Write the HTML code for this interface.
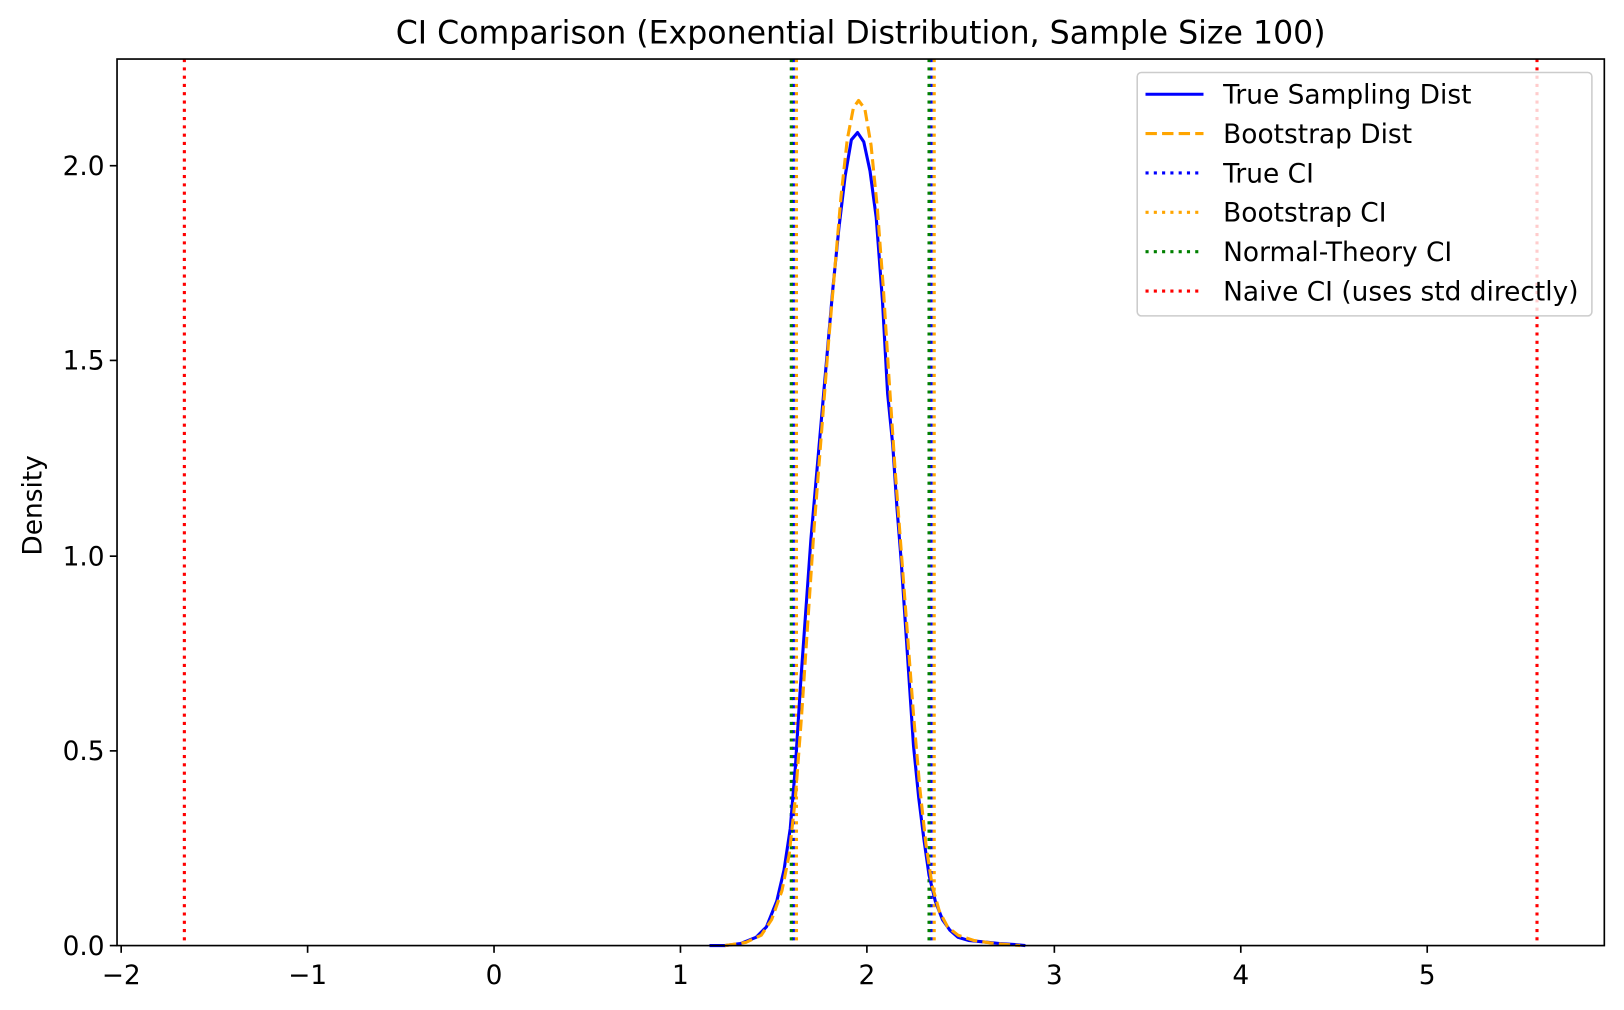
<!DOCTYPE html>
<html><head><style>body{margin:0;background:#fff}svg{display:block}text{font-family:"DejaVu Sans","Liberation Sans",sans-serif;fill:#000}</style></head>
<body>
<svg width="1624" height="1010" viewBox="0 0 1568 975.2" preserveAspectRatio="none" xmlns="http://www.w3.org/2000/svg">
<rect width="1568" height="976" fill="#fff"/>
<text x="831" y="42" font-size="30.5" text-anchor="middle">CI Comparison (Exponential Distribution, Sample Size 100)</text>
<g stroke-width="3" stroke-dasharray="3,5" fill="none">
<line x1="178" y1="57" x2="178" y2="913" stroke="red"/>
<line x1="1484" y1="57" x2="1484" y2="913" stroke="red"/>
<line x1="766" y1="57" x2="766" y2="913" stroke="blue"/>
<line x1="899" y1="57" x2="899" y2="913" stroke="blue"/>
<line x1="769" y1="57" x2="769" y2="913" stroke="orange"/>
<line x1="902" y1="57" x2="902" y2="913" stroke="orange"/>
<line x1="764" y1="57" x2="764" y2="913" stroke="green"/>
<line x1="897" y1="57" x2="897" y2="913" stroke="green"/>
</g>
<polyline fill="none" stroke="blue" stroke-width="3" stroke-linejoin="round" points="685,913 700,913 715,911 730,905 740,895 750,870 757,840 763,800 768,740 773,660 778,590 783,520 790,440 797,360 804,280 810,220 816,170 822,135 828,128 834,137 840,165 846,210 852,290 857,380 862,430 866,490 870,540 874,600 878,660 882,720 887,770 892,810 897,845 903,870 910,888 917,898 925,905 935,908 945,909 955,910 965,911 980,912 990,913"/>
<polyline fill="none" stroke="orange" stroke-width="3" stroke-dasharray="11,5" stroke-linejoin="round" points="700,913 720,910 735,903 745,888 755,860 762,825 768,770 774,690 780,600 786,510 793,420 800,330 806,260 812,190 818,135 824,104 829,97 835,105 841,140 847,200 853,280 858,360 864,450 870,530 876,610 882,690 888,760 894,815 900,855 907,880 915,895 925,903 940,908 960,911 985,913"/>
<rect x="113" y="57" width="1436" height="856" fill="none" stroke="#000" stroke-width="1.6"/>
<g stroke="#000" stroke-width="1.6">
<line x1="117" y1="913" x2="117" y2="920"/><line x1="297" y1="913" x2="297" y2="920"/><line x1="477" y1="913" x2="477" y2="920"/><line x1="657" y1="913" x2="657" y2="920"/><line x1="837" y1="913" x2="837" y2="920"/><line x1="1018" y1="913" x2="1018" y2="920"/><line x1="1198" y1="913" x2="1198" y2="920"/><line x1="1378" y1="913" x2="1378" y2="920"/>
<line x1="106" y1="913" x2="113" y2="913"/><line x1="106" y1="725" x2="113" y2="725"/><line x1="106" y1="537" x2="113" y2="537"/><line x1="106" y1="348" x2="113" y2="348"/><line x1="106" y1="160" x2="113" y2="160"/>
</g>
<g font-size="25.5" text-anchor="middle">
<text x="117" y="950">−2</text><text x="297" y="950">−1</text><text x="477" y="950">0</text><text x="657" y="950">1</text><text x="837" y="950">2</text><text x="1018" y="950">3</text><text x="1198" y="950">4</text><text x="1378" y="950">5</text>
</g>
<g font-size="25.5" text-anchor="end">
<text x="101" y="922">0.0</text><text x="101" y="734">0.5</text><text x="101" y="546">1.0</text><text x="101" y="357">1.5</text><text x="101" y="169">2.0</text>
</g>
<text x="40" y="488" font-size="25.5" text-anchor="middle" transform="rotate(-90 40 488)">Density</text>
<rect x="1098" y="70" width="439" height="235" rx="4" fill="#fff" fill-opacity="0.8" stroke="#ccc" stroke-width="1.5"/>
<g fill="none" stroke-width="3">
<line x1="1106" y1="91" x2="1162" y2="91" stroke="blue"/>
<line x1="1106" y1="129" x2="1162" y2="129" stroke="orange" stroke-dasharray="11,5"/>
<line x1="1106" y1="167" x2="1162" y2="167" stroke="blue" stroke-dasharray="3,5"/>
<line x1="1106" y1="205" x2="1162" y2="205" stroke="orange" stroke-dasharray="3,5"/>
<line x1="1106" y1="243" x2="1162" y2="243" stroke="green" stroke-dasharray="3,5"/>
<line x1="1106" y1="281" x2="1162" y2="281" stroke="red" stroke-dasharray="3,5"/>
</g>
<g font-size="25.5">
<text x="1181" y="100">True Sampling Dist</text>
<text x="1181" y="138">Bootstrap Dist</text>
<text x="1181" y="176">True CI</text>
<text x="1181" y="214">Bootstrap CI</text>
<text x="1181" y="252">Normal-Theory CI</text>
<text x="1181" y="290">Naive CI (uses std directly)</text>
</g>
</svg>
</body></html>
